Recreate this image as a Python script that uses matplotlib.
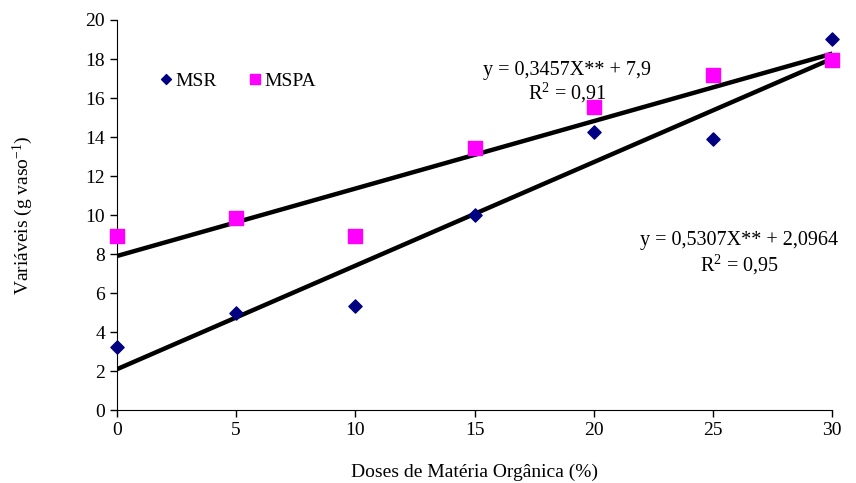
import matplotlib
matplotlib.use("Agg")
import matplotlib.pyplot as plt
import numpy as np

doses = [0, 5, 10, 15, 20, 25, 30]
msr = [3.25, 5.0, 5.35, 10.0, 14.25, 13.9, 19.05]
mspa = [8.9, 9.85, 8.9, 13.45, 15.55, 17.2, 17.95]
fit_msr = (0.5307, 2.0964)
fit_mspa = (0.3457, 7.9)
xticks = [0, 5, 10, 15, 20, 25, 30]
yticks = [0, 2, 4, 6, 8, 10, 12, 14, 16, 18, 20]

plt.rcParams['font.family'] = ['Liberation Serif', 'DejaVu Serif']
plt.rcParams['mathtext.fontset'] = 'custom'
plt.rcParams['mathtext.rm'] = 'Liberation Serif'
plt.rcParams['mathtext.it'] = 'Liberation Serif:italic'
plt.rcParams['mathtext.default'] = 'rm'
fig = plt.figure(figsize=(8.56, 4.83), dpi=100)
ax = fig.add_axes([0.1367, 0.151, 0.8353, 0.8076])

xl = np.array([0, 30])
ax.plot(xl, fit_mspa[0] * xl + fit_mspa[1], color='black', lw=3.2, zorder=2)
ax.plot(xl, fit_msr[0] * xl + fit_msr[1], color='black', lw=3.2, zorder=2)
ax.scatter(doses, msr, marker='D', s=45, color='#000080', zorder=3, clip_on=False, label='MSR')
ax.scatter(doses, mspa, marker='s', s=95, color='#FF00FF', zorder=3, clip_on=False, label='MSPA')

ax.set_xlim(0, 30)
ax.set_ylim(0, 20)
ax.set_xticks(xticks)
ax.set_yticks(yticks)
ax.tick_params(labelsize=14, direction='out', length=5, width=1)
for s in ['top', 'right']:
    ax.spines[s].set_visible(False)
ax.set_xlabel('Doses de Matéria Orgânica (%)', fontsize=14, labelpad=18)
ax.set_ylabel('Variáveis (g vaso$^{-1}$)', fontsize=14)
ax.yaxis.set_label_coords(-0.115, 0.5)

ax.legend(loc='center left', bbox_to_anchor=(0.045, 0.843), ncol=2, frameon=False,
          fontsize=14, handletextpad=0.05, columnspacing=1.5, markerscale=0.75,
          handlelength=0.9, scatteryoffsets=[0.5], borderaxespad=0)

ax.text(18.9, 17.4, 'y = 0,3457X** + 7,9', ha='center', va='center', fontsize=14.5)
ax.text(18.9, 16.25, 'R$^2$ = 0,91', ha='center', va='center', fontsize=14.5)
ax.text(26.1, 8.7, 'y = 0,5307X** + 2,0964', ha='center', va='center', fontsize=14.5)
ax.text(26.1, 7.42, 'R$^2$ = 0,95', ha='center', va='center', fontsize=14.5)

fig.savefig('out.png', dpi=100)
